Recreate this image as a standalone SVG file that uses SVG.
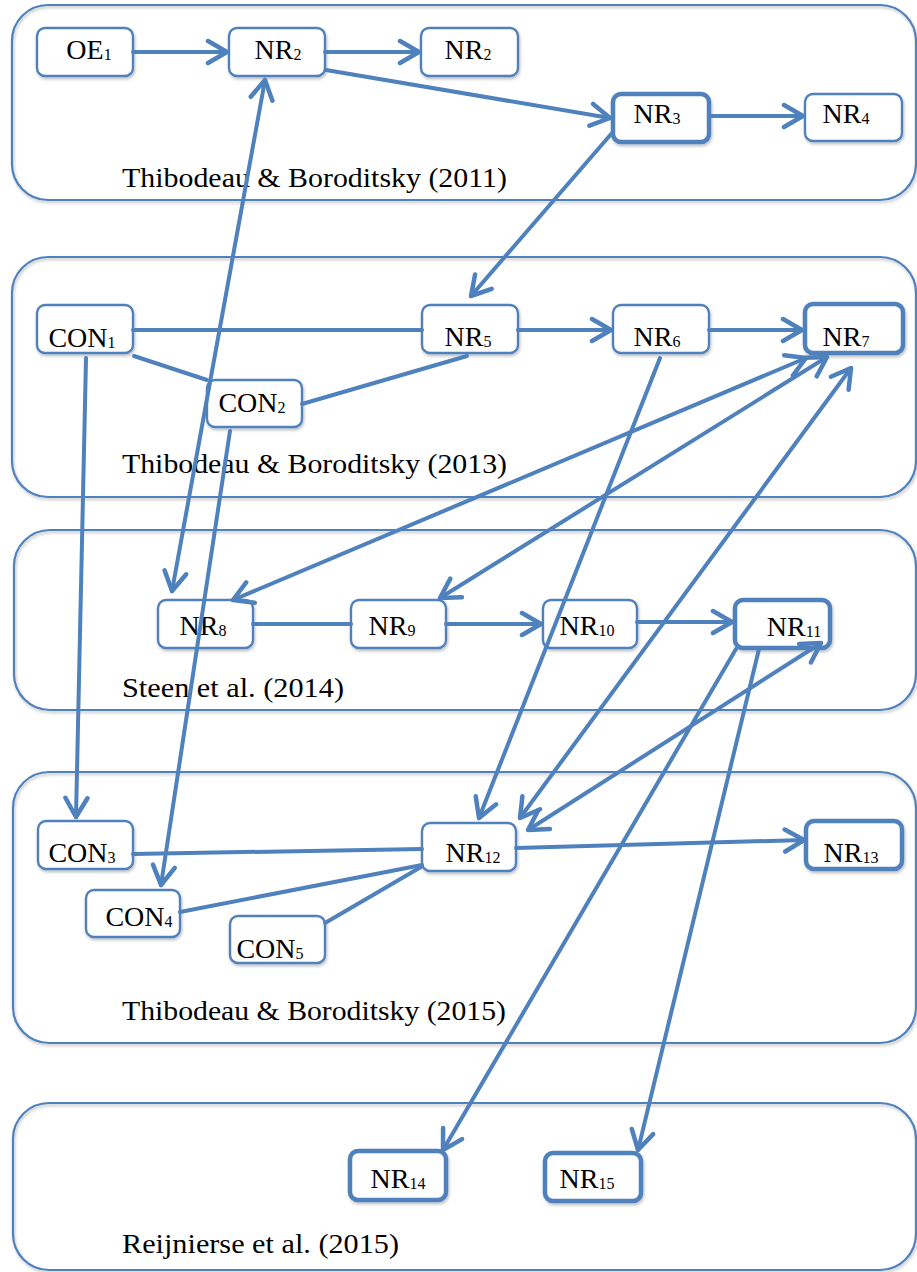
<svg xmlns="http://www.w3.org/2000/svg" width="917" height="1272" viewBox="0 0 917 1272">
<style>
.panel{fill:none;stroke:#4f81bd;stroke-width:2.2}
.node{fill:#fff;stroke:#4f81bd;stroke-width:2.4}
.thick{stroke-width:4.5}
.lbl{font-family:"Liberation Serif","Times New Roman",serif;font-size:28px;fill:#000;text-anchor:middle}
.sub{font-size:16px}
.plbl{font-family:"Liberation Serif","Times New Roman",serif;font-size:27px;fill:#000}
.c{fill:none;stroke:#4f81bd;stroke-width:4;stroke-linecap:round}
.a{marker-end:url(#ah)}
.b{marker-end:url(#ah);marker-start:url(#ah)}
</style>
<defs>
<marker id="ah" markerUnits="userSpaceOnUse" markerWidth="26" markerHeight="28" viewBox="0 0 26 28" refX="23" refY="14" orient="auto-start-reverse">
<path d="M4,3 L23,14 L4,25" fill="none" stroke="#4f81bd" stroke-width="4.5" stroke-linecap="round" stroke-linejoin="round"/>
</marker>
<filter id="sh" x="-10%" y="-10%" width="130%" height="140%">
<feDropShadow dx="1" dy="2" stdDeviation="1.5" flood-color="#000" flood-opacity="0.25"/>
</filter>
</defs>
<g id="panels">
<g id="panel1"><rect class="panel" x="12" y="5" width="904" height="195" rx="36" filter="url(#sh)"/><text class="plbl" x="122" y="187" textLength="385" lengthAdjust="spacingAndGlyphs">Thibodeau &amp; Boroditsky (2011)</text></g>
<g id="panel2"><rect class="panel" x="12" y="257" width="904" height="240" rx="36" filter="url(#sh)"/><text class="plbl" x="122" y="473" textLength="385" lengthAdjust="spacingAndGlyphs">Thibodeau &amp; Boroditsky (2013)</text></g>
<g id="panel3"><rect class="panel" x="14" y="530" width="902" height="180" rx="36" filter="url(#sh)"/><text class="plbl" x="122" y="697" textLength="222" lengthAdjust="spacingAndGlyphs">Steen et al. (2014)</text></g>
<g id="panel4"><rect class="panel" x="13" y="772" width="903" height="271" rx="36" filter="url(#sh)"/><text class="plbl" x="122" y="1020" textLength="384" lengthAdjust="spacingAndGlyphs">Thibodeau &amp; Boroditsky (2015)</text></g>
<g id="panel5"><rect class="panel" x="13" y="1103" width="903" height="167" rx="36" filter="url(#sh)"/><text class="plbl" x="122" y="1253" textLength="277" lengthAdjust="spacingAndGlyphs">Reijnierse et al. (2015)</text></g>
</g>
<g id="nodes">
<g id="OE1"><rect class="node" x="37" y="28" width="96" height="48" rx="8" filter="url(#sh)"/><text class="lbl" x="89" y="59">OE<tspan class="sub" dy="1">1</tspan></text></g>
<g id="NR2a"><rect class="node" x="229" y="28" width="96" height="48" rx="8" filter="url(#sh)"/><text class="lbl" x="278" y="59">NR<tspan class="sub" dy="1">2</tspan></text></g>
<g id="NR2b"><rect class="node" x="421" y="28" width="97" height="48" rx="8" filter="url(#sh)"/><text class="lbl" x="468" y="59">NR<tspan class="sub" dy="1">2</tspan></text></g>
<g id="NR3"><rect class="node thick" x="613" y="94" width="96" height="48" rx="8" filter="url(#sh)"/><text class="lbl" x="657" y="123">NR<tspan class="sub" dy="1">3</tspan></text></g>
<g id="NR4"><rect class="node" x="805" y="94" width="97" height="47" rx="8" filter="url(#sh)"/><text class="lbl" x="846" y="123">NR<tspan class="sub" dy="1">4</tspan></text></g>
<g id="CON1"><rect class="node" x="37" y="305" width="96" height="48" rx="8" filter="url(#sh)"/><text class="lbl" x="82" y="347">CON<tspan class="sub" dy="1">1</tspan></text></g>
<g id="CON2"><rect class="node" x="207" y="380" width="95" height="47" rx="8" filter="url(#sh)"/><text class="lbl" x="252" y="412">CON<tspan class="sub" dy="1">2</tspan></text></g>
<g id="NR5"><rect class="node" x="422" y="305" width="96" height="48" rx="8" filter="url(#sh)"/><text class="lbl" x="468" y="346">NR<tspan class="sub" dy="1">5</tspan></text></g>
<g id="NR6"><rect class="node" x="613" y="305" width="96" height="48" rx="8" filter="url(#sh)"/><text class="lbl" x="657" y="346">NR<tspan class="sub" dy="1">6</tspan></text></g>
<g id="NR7"><rect class="node thick" x="805" y="304" width="98" height="49" rx="8" filter="url(#sh)"/><text class="lbl" x="846" y="346">NR<tspan class="sub" dy="1">7</tspan></text></g>
<g id="NR8"><rect class="node" x="158" y="600" width="95" height="48" rx="8" filter="url(#sh)"/><text class="lbl" x="203" y="635">NR<tspan class="sub" dy="1">8</tspan></text></g>
<g id="NR9"><rect class="node" x="351" y="600" width="95" height="48" rx="8" filter="url(#sh)"/><text class="lbl" x="392" y="635">NR<tspan class="sub" dy="1">9</tspan></text></g>
<g id="NR10"><rect class="node" x="543" y="600" width="94" height="48" rx="8" filter="url(#sh)"/><text class="lbl" x="587" y="635">NR<tspan class="sub" dy="1">10</tspan></text></g>
<g id="NR11"><rect class="node thick" x="735" y="600" width="95" height="48" rx="8" filter="url(#sh)"/><text class="lbl" x="794" y="636">NR<tspan class="sub" dy="1">11</tspan></text></g>
<g id="CON3"><rect class="node" x="38" y="821" width="95" height="48" rx="8" filter="url(#sh)"/><text class="lbl" x="82" y="862">CON<tspan class="sub" dy="1">3</tspan></text></g>
<g id="NR12"><rect class="node" x="422" y="823" width="94" height="48" rx="8" filter="url(#sh)"/><text class="lbl" x="473" y="862">NR<tspan class="sub" dy="1">12</tspan></text></g>
<g id="NR13"><rect class="node thick" x="806" y="821" width="96" height="48" rx="8" filter="url(#sh)"/><text class="lbl" x="851" y="862">NR<tspan class="sub" dy="1">13</tspan></text></g>
<g id="CON4"><rect class="node" x="86" y="890" width="94" height="47" rx="8" filter="url(#sh)"/><text class="lbl" x="139" y="926">CON<tspan class="sub" dy="1">4</tspan></text></g>
<g id="CON5"><rect class="node" x="230" y="916" width="95" height="47" rx="8" filter="url(#sh)"/><text class="lbl" x="270" y="958">CON<tspan class="sub" dy="1">5</tspan></text></g>
<g id="NR14"><rect class="node thick" x="350" y="1151" width="96" height="49" rx="8" filter="url(#sh)"/><text class="lbl" x="398" y="1188">NR<tspan class="sub" dy="1">14</tspan></text></g>
<g id="NR15"><rect class="node thick" x="545" y="1153" width="96" height="48" rx="8" filter="url(#sh)"/><text class="lbl" x="587" y="1188">NR<tspan class="sub" dy="1">15</tspan></text></g>
</g>
<g id="connectors">
<line class="c a" x1="133" y1="52" x2="227" y2="52"/>
<line class="c a" x1="325" y1="52" x2="419" y2="52"/>
<line class="c a" x1="326" y1="70" x2="610" y2="118"/>
<line class="c a" x1="709" y1="116" x2="803" y2="116"/>
<line class="c a" x1="612" y1="133" x2="471" y2="296"/>
<line class="c" x1="133" y1="330" x2="422" y2="330"/>
<line class="c" x1="134" y1="356" x2="207" y2="380"/>
<line class="c" x1="302" y1="404" x2="467" y2="356"/>
<line class="c a" x1="518" y1="330" x2="611" y2="330"/>
<line class="c a" x1="709" y1="330" x2="802" y2="330"/>
<line class="c b" x1="265" y1="80" x2="172" y2="591"/>
<line class="c a" x1="230" y1="431" x2="161" y2="885"/>
<line class="c a" x1="86" y1="358" x2="76" y2="817"/>
<line class="c b" x1="806" y1="358" x2="233" y2="600"/>
<line class="c b" x1="827" y1="357" x2="440" y2="598"/>
<line class="c b" x1="851" y1="368" x2="520" y2="818"/>
<line class="c a" x1="660" y1="358" x2="479" y2="818"/>
<line class="c" x1="253" y1="624" x2="351" y2="624"/>
<line class="c a" x1="446" y1="624" x2="541" y2="624"/>
<line class="c a" x1="637" y1="622" x2="732" y2="622"/>
<line class="c b" x1="821" y1="643" x2="528" y2="830"/>
<line class="c a" x1="736" y1="649" x2="443" y2="1150"/>
<line class="c a" x1="759" y1="649" x2="638" y2="1150"/>
<line class="c" x1="133" y1="854" x2="422" y2="849"/>
<line class="c" x1="180" y1="912" x2="422" y2="865"/>
<line class="c" x1="325" y1="923" x2="421" y2="867"/>
<line class="c a" x1="516" y1="848" x2="804" y2="840"/>
</g>
</svg>
